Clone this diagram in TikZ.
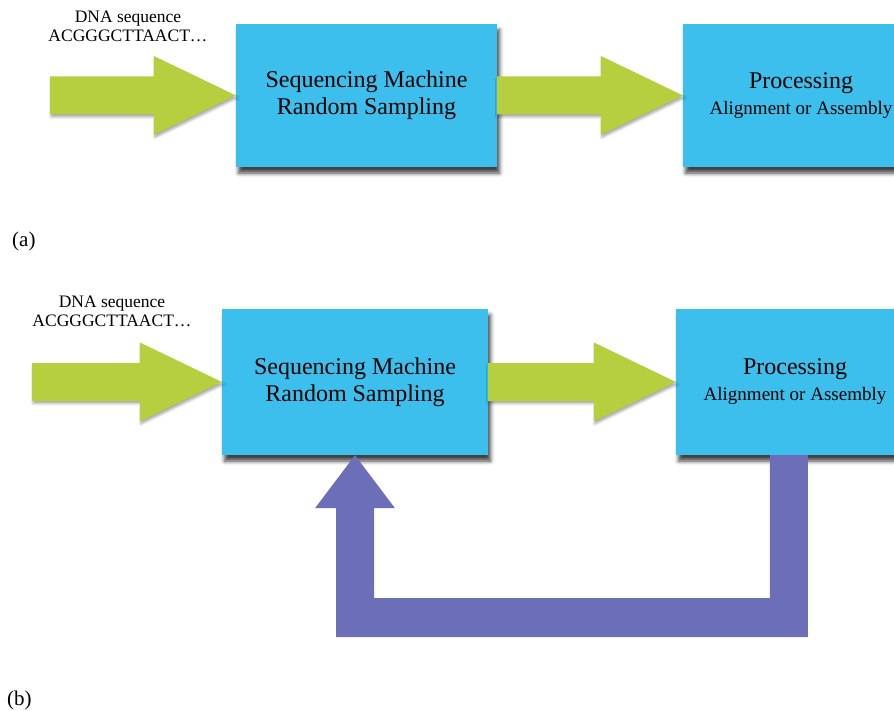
\documentclass[tikz,border=0pt]{standalone}
\usepackage{fontspec}
\setmainfont{Liberation Serif}
\usetikzlibrary{calc,shadows.blur}

\definecolor{boxblue}{RGB}{60,191,236}
\definecolor{flowgreen}{RGB}{181,207,62}
\definecolor{loopviolet}{RGB}{108,110,184}

\tikzset{
  stage/.style={rectangle, fill=boxblue, draw=none, inner sep=0pt, align=center,
    font=\fontsize{24}{27}\selectfont,
    blur shadow={shadow xshift=2.5pt, shadow yshift=-6pt, shadow blur radius=4pt, shadow opacity=75}},
  flow/.style={fill=flowgreen,
    blur shadow={shadow xshift=1pt, shadow yshift=-2.5pt, shadow blur radius=2.5pt, shadow opacity=35}},
  loopback/.style={fill=loopviolet},
  inputtext/.style={font=\fontsize{17.5}{19}\selectfont, align=center, inner sep=0pt},
  panel/.style={font=\fontsize{21}{24}\selectfont, anchor=base west, inner sep=0pt},
}

% thick block arrow from a tail point to a tip point at the same height
\newcommand\flowarrow[2]{%
  \fill[flow] ($(#1)+(0,-19)$) -- ($(#2)+(-82,-19)$) -- ($(#2)+(-82,-39.5)$) -- (#2)
    -- ($(#2)+(-82,39.5)$) -- ($(#2)+(-82,19)$) -- ($(#1)+(0,19)$) -- cycle;}

\begin{document}
\begin{tikzpicture}[x=1pt, y=-1pt]
\useasboundingbox (0,0) rectangle (894,711);
\clip (0,0) rectangle (894,711);

% ---------- panel (a) ----------
\node[inputtext] (dnaA) at (128,26) {DNA sequence\\ACGGGCTTAACT…};
\node[stage, minimum width=261pt, minimum height=143pt] (seqA) at (366.5,95.5)
  {Sequencing Machine\\Random Sampling};
\node[stage, minimum width=236pt, minimum height=143pt, font=\fontsize{24}{26}\selectfont] (procA) at (801,95.5)
  {Processing\\{\fontsize{19}{22}\selectfont Alignment or Assembly}};
\coordinate (inA) at (50,95.5);
\flowarrow{inA}{seqA.west}
\flowarrow{seqA.east}{procA.west}
\node[panel] (labA) at (12,247) {(a)};

% ---------- panel (b) ----------
\node[inputtext] (dnaB) at (112,311) {DNA sequence\\ACGGGCTTAACT…};
\node[stage, minimum width=266pt, minimum height=146pt] (seqB) at (355,382)
  {Sequencing Machine\\Random Sampling};
\node[stage, minimum width=238pt, minimum height=146pt, font=\fontsize{24}{26}\selectfont] (procB) at (795,382)
  {Processing\\{\fontsize{19}{22}\selectfont Alignment or Assembly}};
\coordinate (inB) at (32,382);
\flowarrow{inB}{seqB.west}
\flowarrow{seqB.east}{procB.west}

% feedback loop from processing back to sampling
\coordinate (fbOut) at ($(procB.south west)+(113,0)$);
\fill[loopback] ($(fbOut)+(-19,0)$) -- ($(fbOut)+(19,0)$) -- ($(fbOut)+(19,182)$)
  -- ($(seqB.south)+(-19,182)$) -- ($(seqB.south)+(-19,53)$) -- ($(seqB.south)+(-40,53)$)
  -- (seqB.south) -- ($(seqB.south)+(40,53)$) -- ($(seqB.south)+(19,53)$)
  -- ($(seqB.south)+(19,143)$) -- ($(fbOut)+(-19,143)$) -- cycle;

\node[panel] (labB) at (7,705) {(b)};
\end{tikzpicture}
\end{document}
